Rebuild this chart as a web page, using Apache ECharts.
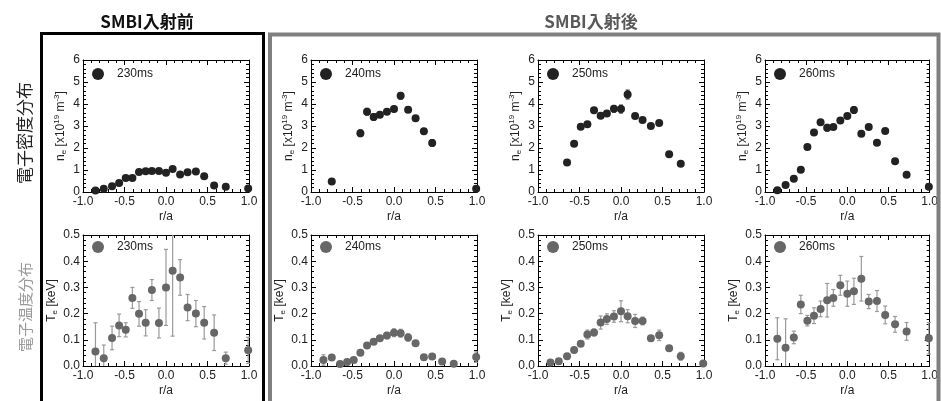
<!DOCTYPE html>
<html><head><meta charset="utf-8">
<script src="https://cdn.jsdelivr.net/npm/echarts@6/dist/echarts.min.js"></script>
<style>html,body{margin:0;padding:0;background:#fff}#c{width:941px;height:401px}</style>
</head><body><div id="c"></div>
<script>
// radial positions r/a shared by all profiles
const rPos = [-0.85,-0.75,-0.65,-0.565,-0.485,-0.405,-0.325,-0.245,-0.17,-0.085,0.0,0.08,0.17,0.26,0.36,0.46,0.58,0.72,0.99];
const times = ['230ms','240ms','250ms','260ms'];

// electron density n_e [x10^19 m^-3]
const ne230 = [0.07,0.15,0.26,0.41,0.64,0.64,0.91,0.94,0.96,0.95,0.87,1.05,0.79,0.90,0.93,0.72,0.29,0.24,0.16];
const neErr230 = [0.04,0.04,0.04,0.04,0.04,0.04,0.04,0.04,0.04,0.04,0.05,0.06,0.04,0.04,0.04,0.04,0.04,0.04,0.04];
const ne240 = [null,0.48,null,null,null,2.67,3.65,3.41,3.51,3.65,3.77,4.37,3.74,3.35,2.76,2.23,null,null,0.15];
const neErr240 = [null,0.05,null,null,null,0.15,0.15,0.15,0.1,0.12,0.12,0.15,0.12,0.1,0.12,0.15,null,null,0.05];
const ne250 = [null,null,1.34,2.19,2.97,3.08,3.72,3.47,3.57,3.78,3.77,4.43,3.45,3.27,3.00,3.14,1.72,1.28,null];
const neErr250 = [null,null,0.05,0.05,0.05,0.05,0.06,0.12,0.1,0.15,0.18,0.2,0.08,0.06,0.06,0.06,0.05,0.05,null];
const ne260 = [0.08,0.32,0.60,1.01,2.05,2.71,3.17,2.92,2.95,3.25,3.46,3.73,2.65,2.96,2.24,2.77,1.40,0.78,0.24];
const neErr260 = [0.05,0.05,0.05,0.05,0.05,0.06,0.08,0.15,0.08,0.08,0.1,0.15,0.1,0.06,0.06,0.06,0.05,0.05,0.05];

// electron temperature T_e [keV]
const te230 = [0.055,0.030,0.107,0.155,0.138,0.260,0.199,0.165,0.290,0.164,0.300,0.364,0.338,0.223,0.200,0.165,0.127,0.030,0.060];
const teErr230 = [0.11,0.05,0.045,0.043,0.027,0.04,0.047,0.05,0.04,0.057,0.145,0.25,0.068,0.05,0.05,0.062,0.068,0.023,0.05];
const te240 = [0.023,0.032,0.008,0.015,0.023,0.051,0.078,0.093,0.106,0.116,0.127,0.125,0.109,0.087,0.033,0.036,0.017,0.009,0.034];
const teErr240 = [0.02,0.008,0.006,0.006,0.01,0.008,0.008,0.01,0.01,0.012,0.015,0.015,0.014,0.008,0.006,0.006,0.005,0.005,0.02];
const te250 = [0.013,0.018,0.037,0.061,0.085,0.120,0.128,0.166,0.179,0.189,0.209,0.190,0.172,0.172,0.106,0.117,0.068,0.037,0.010];
const teErr250 = [0.004,0.005,0.008,0.008,0.008,0.017,0.013,0.025,0.02,0.022,0.04,0.025,0.025,0.015,0.01,0.02,0.01,0.015,0.005];
const te260 = [0.104,0.070,0.109,0.235,0.173,0.192,0.218,0.251,0.260,0.308,0.276,0.285,0.333,0.246,0.248,0.195,0.159,0.132,0.106];
const teErr260 = [0.08,0.11,0.024,0.035,0.02,0.03,0.03,0.064,0.032,0.038,0.048,0.05,0.085,0.027,0.04,0.034,0.03,0.034,0.06];

const neSets = [[ne230,neErr230],[ne240,neErr240],[ne250,neErr250],[ne260,neErr260]];
const teSets = [[te230,teErr230],[te240,teErr240],[te250,teErr250],[te260,teErr260]];

const FONT = 'Liberation Sans';
const lefts = [83, 311, 538, 765];
const tops = [60, 235];
const heights = [132, 131];
const W = 166;

const grids = [], xAxes = [], yAxes = [], series = [], legends = [];

function pts(vals, errs) {
  const out = [];
  rPos.forEach((r, i) => { if (vals[i] !== null) out.push([r, vals[i], errs[i]]); });
  return out;
}

function errRender(color) {
  return function (params, api) {
    const cs = params.coordSys;
    const x = api.value(0), y = api.value(1), e = api.value(2);
    const top = api.coord([x, y + e]);
    const bot = api.coord([x, y - e]);
    const px = top[0];
    if (px < cs.x - 0.5 || px > cs.x + cs.width + 0.5) return null;
    const yMin = cs.y, yMax = cs.y + cs.height;
    let y1 = top[1], y2 = bot[1];
    const capT = y1 >= yMin, capB = y2 <= yMax;
    y1 = Math.max(y1, yMin); y2 = Math.min(y2, yMax);
    const st = { stroke: color, lineWidth: 1.2 };
    const ch = [{ type: 'line', shape: { x1: px, y1: y1, x2: px, y2: y2 }, style: st }];
    if (capT) ch.push({ type: 'line', shape: { x1: px - 2, y1: y1, x2: px + 2, y2: y1 }, style: st });
    if (capB) ch.push({ type: 'line', shape: { x1: px - 2, y1: y2, x2: px + 2, y2: y2 }, style: st });
    return { type: 'group', children: ch };
  };
}

const rich = {
  b: { fontSize: 12, fontFamily: FONT, color: '#222' },
  sub: { fontSize: 8, fontFamily: FONT, color: '#222', padding: [6, 0, 0, 0] },
  sup: { fontSize: 8, fontFamily: FONT, color: '#222', padding: [0, 0, 8, 0] }
};

const tickCommon = { show: true, inside: true, length: 5, lineStyle: { color: '#000' } };
const minorCommon = { show: true, splitNumber: 5, length: 3, lineStyle: { color: '#000' } };

for (let row = 0; row < 2; row++) {
  for (let col = 0; col < 4; col++) {
    const gi = grids.length;
    grids.push({ left: lefts[col], top: tops[row], width: W, height: heights[row], show: false });
    const isNe = row === 0;
    xAxes.push({
      type: 'value', gridIndex: gi, min: -1, max: 1, interval: 0.5, position: 'bottom',
      axisLine: { onZero: false, lineStyle: { color: '#000' } }, axisTick: tickCommon, minorTick: minorCommon,
      splitLine: { show: false },
      axisLabel: { fontSize: 12, fontFamily: FONT, color: '#222', margin: 4, formatter: v => v.toFixed(1) },
      name: 'r/a', nameLocation: 'middle', nameGap: 19,
      nameTextStyle: { fontSize: 12, fontFamily: FONT, color: '#222' }
    });
    yAxes.push({
      type: 'value', gridIndex: gi, min: 0, max: isNe ? 6 : 0.5, interval: isNe ? 1 : 0.1, position: 'left',
      axisLine: { onZero: false, lineStyle: { color: '#000' } }, axisTick: tickCommon, minorTick: minorCommon,
      splitLine: { show: false },
      axisLabel: { fontSize: 12, fontFamily: FONT, color: '#222', margin: 3, formatter: v => isNe ? String(Math.round(v)) : v.toFixed(1) },
      name: isNe ? '{b|n}{sub|e}{b| [x10}{sup|19}{b| m}{sup|-3}{b|]}' : '{b|T}{sub|e}{b| [keV]}',
      nameLocation: 'middle', nameRotate: 90, nameGap: isNe ? 14 : 24,
      nameTextStyle: { rich: rich, fontSize: 12, fontFamily: FONT, color: '#222' }
    });
    const set = isNe ? neSets[col] : teSets[col];
    const dotColor = isNe ? '#222' : '#676767';
    const errColor = isNe ? '#333' : '#9a9a9a';
    const nm = (isNe ? 'ne|' : 'te|') + times[col];
    const data = pts(set[0], set[1]);
    series.push({
      type: 'custom', xAxisIndex: gi, yAxisIndex: gi, renderItem: errRender(errColor),
      data: data, z: 2, silent: true
    });
    series.push({
      type: 'scatter', name: nm, xAxisIndex: gi, yAxisIndex: gi, data: data,
      symbol: 'circle', symbolSize: 8, itemStyle: { color: dotColor, opacity: 1 }, z: 3, clip: true
    });
    legends.push({
      data: [nm], left: lefts[col] + 9, top: tops[row] + (isNe ? 8 : 6), icon: 'circle',
      itemWidth: 12, itemHeight: 12, selectedMode: false, padding: 0,
      formatter: n => n.split('|')[1],
      textStyle: { fontSize: 12, fontFamily: FONT, color: '#222', padding: [0, 0, 0, 8] }
    });
  }
}
// mirrored top/right axes for box ticks
for (let gi = 0; gi < 8; gi++) {
  const isNe = gi < 4;
  xAxes.push({ type: 'value', gridIndex: gi, position: 'top', min: -1, max: 1, interval: 0.5,
    axisLine: { show: true, onZero: false, lineStyle: { color: '#000' } }, axisTick: tickCommon, minorTick: minorCommon, axisLabel: { show: false }, splitLine: { show: false } });
  yAxes.push({ type: 'value', gridIndex: gi, position: 'right', min: 0, max: isNe ? 6 : 0.5, interval: isNe ? 1 : 0.1,
    axisLine: { show: true, onZero: false, lineStyle: { color: '#000' } }, axisTick: tickCommon, minorTick: minorCommon, axisLabel: { show: false }, splitLine: { show: false } });
}

const CJK = '"Noto Sans CJK JP", sans-serif';
const graphic = [
  { type: 'rect', shape: { x: 41.5, y: 33.5, width: 222, height: 420 }, style: { fill: 'none', stroke: '#000', lineWidth: 3 }, z: 10 },
  { type: 'rect', shape: { x: 270, y: 34.5, width: 668.5, height: 420 }, style: { fill: 'none', stroke: '#7f7f7f', lineWidth: 4 }, z: 10 },
  { type: 'text', x: 147, y: 22, style: { text: 'SMBI入射前', font: 'bold 17px ' + CJK, fill: '#111', textAlign: 'center', textVerticalAlign: 'middle' } },
  { type: 'text', x: 591, y: 22, style: { text: 'SMBI入射後', font: 'bold 17px ' + CJK, fill: '#595959', textAlign: 'center', textVerticalAlign: 'middle' } },
  { type: 'text', x: 25, y: 133, rotation: Math.PI / 2, style: { text: '電子密度分布', font: '17px ' + CJK, fill: '#222', textAlign: 'center', textVerticalAlign: 'middle' } },
  { type: 'text', x: 25, y: 307, rotation: Math.PI / 2, style: { text: '電子温度分布', font: '15px ' + CJK, fill: '#9a9a9a', textAlign: 'center', textVerticalAlign: 'middle' } }
];

const chart = echarts.init(document.getElementById('c'), null, { renderer: 'canvas' });
chart.setOption({
  animation: false,
  backgroundColor: '#fff',
  grid: grids, xAxis: xAxes, yAxis: yAxes, series: series, legend: legends, graphic: graphic
});
</script></body></html>
